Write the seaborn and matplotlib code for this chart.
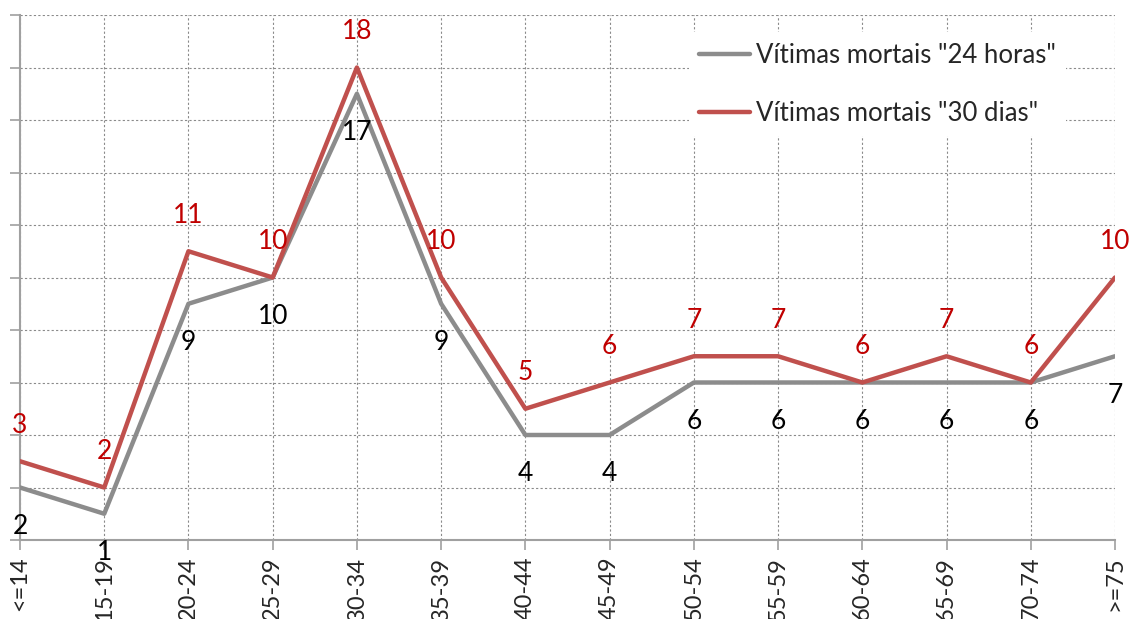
import pandas as pd
import numpy as np
import matplotlib.pyplot as plt
import seaborn as sns

# age groups and counts of road deaths
age_groups = ['<=14', '15-19', '20-24', '25-29', '30-34', '35-39', '40-44',
              '45-49', '50-54', '55-59', '60-64', '65-69', '70-74', '>=75']
deaths_24h = [2, 1, 9, 10, 17, 9, 4, 4, 6, 6, 6, 6, 6, 7]
deaths_30d = [3, 2, 11, 10, 18, 10, 5, 6, 7, 7, 6, 7, 6, 10]

label_24h = 'Vítimas mortais "24 horas"'
label_30d = 'Vítimas mortais "30 dias"'

df = pd.DataFrame({'Idade': age_groups * 2,
                   'Vitimas': deaths_24h + deaths_30d,
                   'Serie': [label_24h] * len(age_groups) + [label_30d] * len(age_groups)})

sns.set_style('white')
plt.rcParams['font.family'] = ['Lato', 'DejaVu Sans']

fig = plt.figure(figsize=(11.37, 6.19), dpi=100)
ax = fig.add_axes([20 / 1137, 1 - 540 / 619, 1095 / 1137, 525 / 619])

palette = {label_24h: '#8C8C8C', label_30d: '#C0504D'}
sns.lineplot(data=df, x='Idade', y='Vitimas', hue='Serie', palette=palette,
             sort=False, linewidth=3.2, ax=ax, zorder=3)

# data labels: red above, black below
for i, (a, b) in enumerate(zip(deaths_24h, deaths_30d)):
    ax.annotate(str(b), (i, b), xytext=(0, 26), textcoords='offset points',
                ha='center', va='center', fontsize=19, color='#C00000')
    ax.annotate(str(a), (i, a), xytext=(0, -28), textcoords='offset points',
                ha='center', va='center', fontsize=19, color='black')

ax.set_xlim(0, len(age_groups) - 1)
ax.set_ylim(0, 20)
ax.set_yticks(np.arange(0, 21, 2))
ax.set_yticklabels([])
ax.set_xticks(range(len(age_groups)))
ax.set_xticklabels(age_groups, rotation=90, fontsize=17)
ax.set_xlabel('')
ax.set_ylabel('')

ax.grid(True, which='major', linestyle=(0, (2, 2)), linewidth=0.8, color='#8A8A8A')
ax.set_axisbelow(True)
for side in ['top', 'right']:
    ax.spines[side].set_visible(False)
for side in ['left', 'bottom']:
    ax.spines[side].set_color('#A0A0A0')
    ax.spines[side].set_linewidth(1.5)
ax.tick_params(axis='both', direction='out', length=7, width=1.2, color='#A0A0A0',
               left=True, bottom=True, pad=5)

leg = ax.legend(loc='upper right', bbox_to_anchor=(0.955, 0.967), fontsize=18.5,
                frameon=True, framealpha=1, facecolor='white', edgecolor='none',
                handlelength=2.0, handletextpad=0.2, labelspacing=1.3,
                borderaxespad=0, fancybox=False)
for line in leg.get_lines():
    line.set_linewidth(3.2)

fig.savefig('out.png', dpi=100)
